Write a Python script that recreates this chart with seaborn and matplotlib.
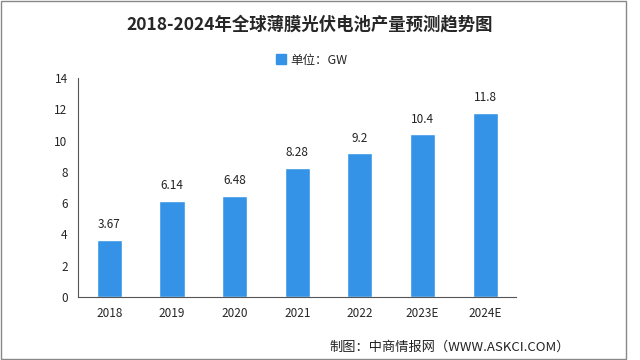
import matplotlib
matplotlib.use("Agg")
import matplotlib.pyplot as plt
import seaborn as sns
import pandas as pd
from matplotlib.patches import Patch, Rectangle

# data
years = ["2018", "2019", "2020", "2021", "2022", "2023E", "2024E"]
output_gw = [3.67, 6.14, 6.48, 8.28, 9.2, 10.4, 11.8]
value_labels = ["3.67", "6.14", "6.48", "8.28", "9.2", "10.4", "11.8"]

sns.set_style("white")
plt.rcParams['font.family'] = ['Noto Sans CJK SC', 'DejaVu Sans']

bar_color = '#3493E6'

data = pd.DataFrame({'year': years, 'gw': output_gw})

fig = plt.figure(figsize=(6.4, 3.6), dpi=100)
ax = fig.add_axes([0.122, 0.175, 0.685, 0.608])

sns.barplot(data=data, x='year', y='gw', color=bar_color, width=0.4,
            saturation=1, ax=ax)

# value labels above bars
for i, (v, lab) in enumerate(zip(output_gw, value_labels)):
    ax.text(i, v + 0.55, lab, ha='center', va='bottom', fontsize=8.5,
            color='#222222')

ax.set_ylim(0, 14)
ax.set_yticks(range(0, 15, 2))
ax.set_xlim(-0.5, len(years) - 0.5)
ax.set_xlabel('')
ax.set_ylabel('')

# ticks on category boundaries
ax.set_xticks([i - 0.5 for i in range(len(years) + 1)], minor=True)
ax.tick_params(axis='x', which='major', length=0, labelsize=8.5, pad=7)
ax.tick_params(axis='x', which='minor', length=4, color='#555555', width=0.8)
ax.tick_params(axis='y', length=4, color='#555555', width=0.8, labelsize=8.5)

for side in ['top', 'right']:
    ax.spines[side].set_visible(False)
for side in ['left', 'bottom']:
    ax.spines[side].set_color('#555555')
    ax.spines[side].set_linewidth(0.8)

# title, legend and source
fig.text(0.484, 0.932, '2018-2024年全球薄膜光伏电池产量预测趋势图',
         ha='center', va='center', fontsize=12.5, fontweight='bold')
fig.legend(handles=[Patch(color=bar_color, label='单位：GW')],
           loc='center', bbox_to_anchor=(0.487, 0.833), frameon=False,
           fontsize=9, handlelength=0.8, handleheight=0.8, handletextpad=0.4)
fig.text(0.89, 0.035, '制图：中商情报网（WWW.ASKCI.COM）',
         ha='right', va='center', fontsize=9.5, color='#222222')

# grey frame around the chart
fig.patches.append(Rectangle((0.002, 0.003), 0.976, 0.994,
                             transform=fig.transFigure, fill=False,
                             edgecolor='#888888', linewidth=1.0))

fig.savefig('out.png', dpi=100)
